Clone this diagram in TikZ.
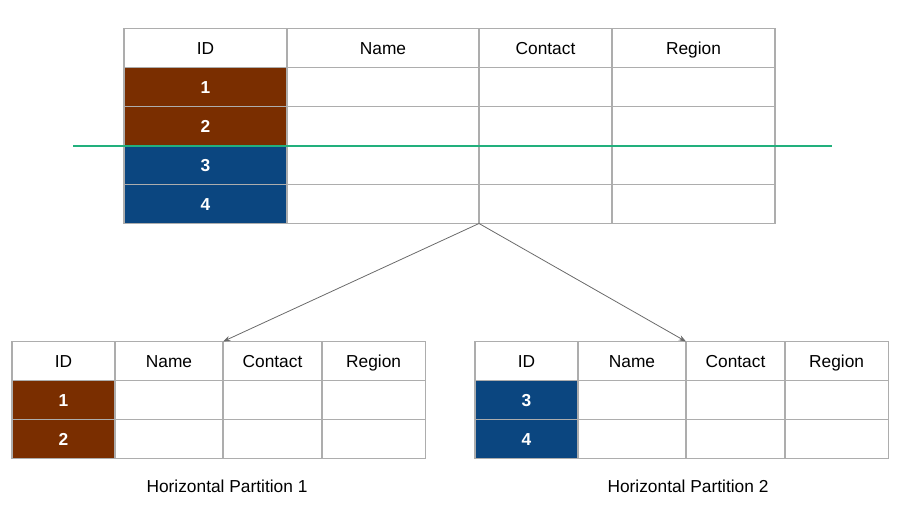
\documentclass[tikz,border=0pt]{standalone}
\usepackage{fontspec}
\setmainfont{Liberation Sans}
\usetikzlibrary{arrows.meta,positioning}
\definecolor{idbrown}{HTML}{7A2E00}
\definecolor{idblue}{HTML}{0B4680}
\definecolor{cutgreen}{HTML}{22B07D}
\definecolor{gridgray}{HTML}{ADADAD}
\definecolor{arrowgray}{HTML}{6A6A6A}
\tikzset{%
	cell/.style     = {draw=gridgray, line width=0.8pt, rectangle, anchor=north west, inner sep=0pt, outer sep=0pt, minimum height=29.25pt, text height=9.3pt, text depth=0pt, font=\fontsize{13}{15}\selectfont},
	idcell/.style   = {cell, text=white, font=\fontsize{13}{15}\selectfont\bfseries}, % ID value
	cutline/.style  = {draw=cutgreen, line width=2pt}, % partition cut
	arrow/.style    = {draw=arrowgray, line width=0.6pt, -{Stealth[length=5.5pt,width=4pt]}},
	caption/.style  = {font=\fontsize{13}{15}\selectfont},
}

\begin{document}
\begin{tikzpicture}[x=0.75pt, y=-0.75pt]
	\useasboundingbox (0,0) rectangle (900,506);
	% source table
	\node[cell, minimum width=122.25pt] (t-id-0) at (124,28.5) {ID};
	\node[cell, minimum width=144pt, right=0pt of t-id-0] (t-name-0) {Name};
	\node[cell, minimum width=99.75pt, right=0pt of t-name-0] (t-contact-0) {Contact};
	\node[cell, minimum width=122.25pt, right=0pt of t-contact-0] (t-region-0) {Region};
	\foreach \r/\col [evaluate=\r as \p using int(\r-1)] in {1/idbrown,2/idbrown,3/idblue,4/idblue} {
		\node[idcell, fill=\col, minimum width=122.25pt, below=0pt of t-id-\p] (t-id-\r) {\r};
		\foreach \c/\w in {name/144pt,contact/99.75pt,region/122.25pt}
			\node[cell, minimum width=\w, below=0pt of t-\c-\p] (t-\c-\r) {};
	}
	\coordinate (cut-l) at (73,146);
	\coordinate (cut-r) at (832,146);
	\draw[cutline] (cut-l) -- (cut-r);
	% partitions
	\foreach \t/\x/\first/\col in {l/12/1/idbrown,r/475/3/idblue} {
		\node[cell, minimum width=77.25pt] (\t-id-0) at (\x,341.5) {ID};
		\node[cell, minimum width=81pt, right=0pt of \t-id-0] (\t-name-0) {Name};
		\node[cell, minimum width=74.25pt, right=0pt of \t-name-0] (\t-contact-0) {Contact};
		\node[cell, minimum width=77.5pt, right=0pt of \t-contact-0] (\t-region-0) {Region};
		\foreach \r [evaluate=\r as \p using int(\r-1), evaluate=\r as \v using int(\r+\first-1)] in {1,2} {
			\node[idcell, fill=\col, minimum width=77.25pt, below=0pt of \t-id-\p] (\t-id-\r) {\v};
			\foreach \c/\w in {name/81pt,contact/74.25pt,region/77.5pt}
				\node[cell, minimum width=\w, below=0pt of \t-\c-\p] (\t-\c-\r) {};
		}
	}
	\node[caption] (cap-l) at (227,486) {Horizontal Partition 1};
	\node[caption] (cap-r) at (688,486) {Horizontal Partition 2};
	\draw[arrow] (t-contact-4.south west) -- (l-contact-0.north west);
	\draw[arrow] (t-contact-4.south west) -- (r-contact-0.north west);
\end{tikzpicture}
\end{document}
